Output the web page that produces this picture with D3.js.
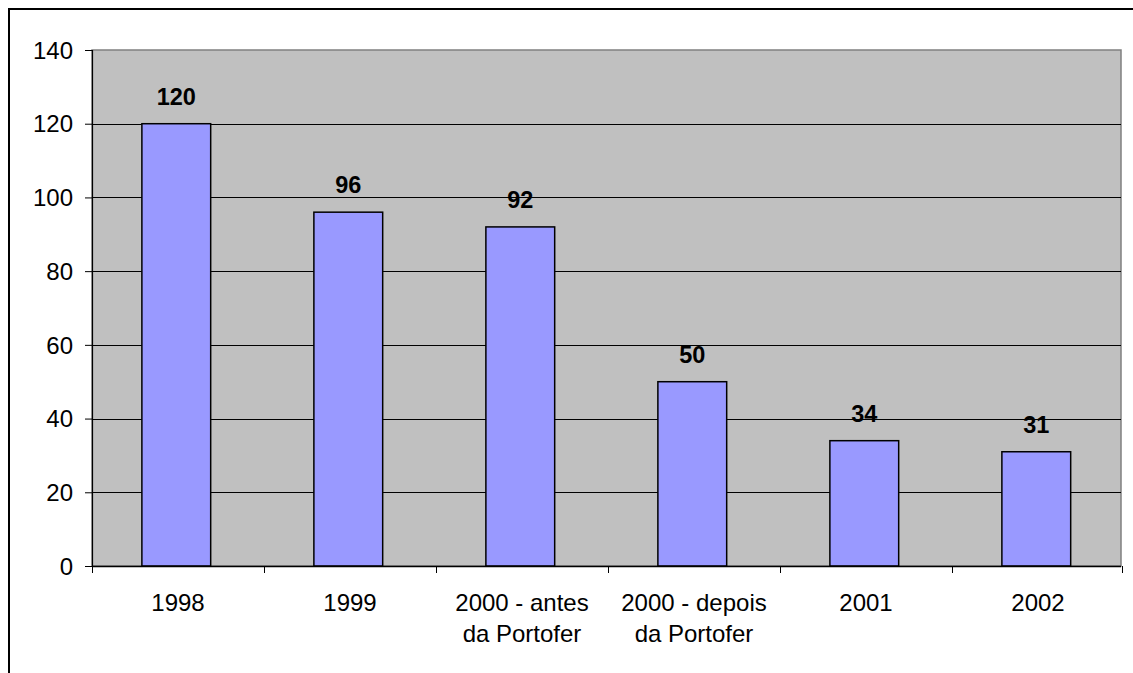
<!DOCTYPE html>
<html>
<head>
<meta charset="utf-8">
<script src="https://cdn.jsdelivr.net/npm/d3@7"></script>
<style>
  body { margin: 0; background: #fff; }
  svg { display: block; font-family: Arial, "Liberation Sans", sans-serif; }
</style>
</head>
<body>
<div class="canvas"></div>
<script>
const categories = ["1998", "1999", "2000 - antes|da Portofer", "2000 - depois|da Portofer", "2001", "2002"];
const values = [120, 96, 92, 50, 34, 31];
const yTicks = [0, 20, 40, 60, 80, 100, 120, 140];

const W = 1133, H = 673;
const plotL = 92, plotR = 1124, plotT = 50, plotB = 566;

const svg = d3.select(".canvas").append("svg")
  .attr("width", W).attr("height", H);

// outer chart border (runs off the right and bottom of the window)
svg.append("rect")
  .attr("x", 9).attr("y", 9)
  .attr("width", W + 20).attr("height", H + 20)
  .attr("fill", "#fff").attr("stroke", "#000").attr("stroke-width", 2);

let xScale = d3.scaleBand().domain(categories).range([plotL, plotR]);
let yScale = d3.scaleLinear().domain([0, 140]).range([plotB, plotT]);

// plot area
svg.append("rect")
  .attr("x", plotL).attr("y", plotT)
  .attr("width", 1121 - plotL).attr("height", plotB - plotT)
  .attr("fill", "#c0c0c0").attr("stroke", "#808080").attr("stroke-width", 1.5);

// gridlines
svg.selectAll("line.grid")
  .data(yTicks.filter((t) => t > 0 && t < 140))
  .enter().append("line")
  .attr("class", "grid")
  .attr("x1", plotL).attr("x2", 1121)
  .attr("y1", (d) => Math.round(yScale(d)) + 0.5)
  .attr("y2", (d) => Math.round(yScale(d)) + 0.5)
  .attr("stroke", "#000").attr("stroke-width", 1);

// bars
let bw = xScale.bandwidth();
svg.selectAll("rect.bar")
  .data(values)
  .enter().append("rect")
  .attr("class", "bar")
  .attr("x", (d, i) => xScale(categories[i]) + bw * 0.29)
  .attr("width", bw * 0.4)
  .attr("y", (d) => yScale(d))
  .attr("height", (d) => plotB - yScale(d))
  .attr("fill", "#9999ff").attr("stroke", "#000").attr("stroke-width", 1.5);

// value labels
svg.selectAll("text.val")
  .data(values)
  .enter().append("text")
  .attr("class", "val")
  .attr("x", (d, i) => xScale(categories[i]) + bw * 0.49)
  .attr("y", (d) => yScale(d) - 19)
  .attr("text-anchor", "middle")
  .attr("font-size", 23.5).attr("font-weight", "bold")
  .text((d) => d);

// y axis
let yAxis = svg.append("g")
  .attr("transform", `translate(${plotL},0)`)
  .call(d3.axisLeft(yScale).tickValues(yTicks).tickSize(7).tickPadding(12));
yAxis.select(".domain").attr("stroke", "#000").attr("stroke-width", 1.2);
yAxis.selectAll(".tick line").attr("stroke", "#000");
yAxis.selectAll(".tick text")
  .attr("font-size", 24).attr("font-family", "Arial, 'Liberation Sans', sans-serif")
  .attr("fill", "#000").attr("dy", "0.34em");

// x axis
svg.append("line")
  .attr("x1", plotL).attr("x2", 1121)
  .attr("y1", plotB + 0.5).attr("y2", plotB + 0.5)
  .attr("stroke", "#000").attr("stroke-width", 1.5);
let bounds = categories.map((c) => xScale(c)).concat([1122]);
svg.selectAll("line.xtick")
  .data(bounds)
  .enter().append("line")
  .attr("class", "xtick")
  .attr("x1", (d) => Math.round(d) + 0.5).attr("x2", (d) => Math.round(d) + 0.5)
  .attr("y1", plotB).attr("y2", plotB + 7)
  .attr("stroke", "#000");

let xl = svg.selectAll("text.cat")
  .data(categories)
  .enter().append("text")
  .attr("class", "cat")
  .attr("x", (d) => xScale(d) + bw / 2)
  .attr("y", 611)
  .attr("text-anchor", "middle")
  .attr("font-size", 24);
xl.selectAll("tspan")
  .data((d) => d.split("|"))
  .enter().append("tspan")
  .attr("x", function () { return this.parentNode.getAttribute("x"); })
  .attr("dy", (d, i) => (i === 0 ? 0 : 31))
  .text((d) => d);
</script>
</body>
</html>
